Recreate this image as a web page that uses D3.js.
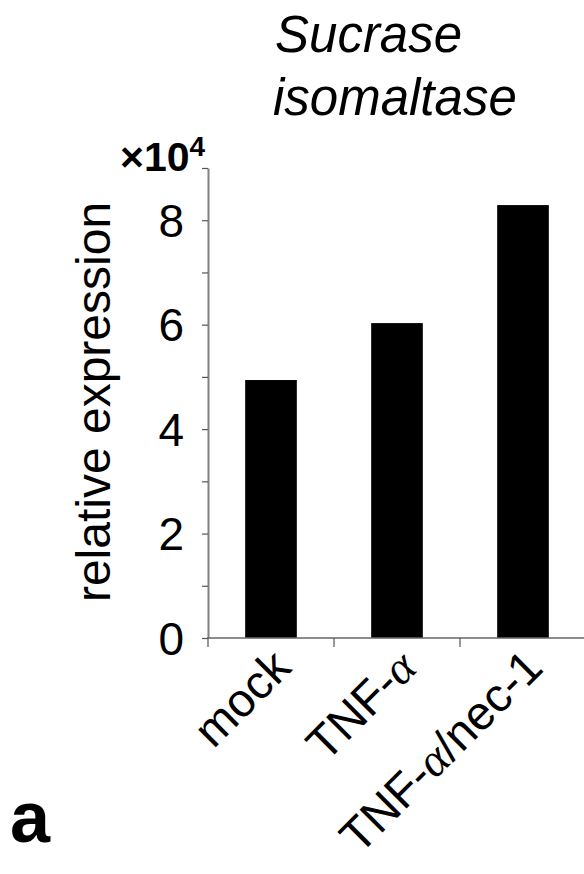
<!DOCTYPE html>
<html>
<head>
<meta charset="utf-8">
<script src="https://cdn.jsdelivr.net/npm/d3@7"></script>
<style>
  body { margin: 0; background: #fff; }
  text { font-family: "Liberation Sans", Arial, sans-serif; }
</style>
</head>
<body>
<svg id="chart" width="584" height="874"></svg>
<script>
// data
var categories = ["mock", "TNF-\u03b1", "TNF-\u03b1/nec-1"];
var values = [4.94, 6.03, 8.29];   // x10^4
var yTicks = [0, 1, 2, 3, 4, 5, 6, 7, 8, 9];
var yLabels = [0, 2, 4, 6, 8];

var svg = d3.select("#chart");

var x = d3.scaleBand()
  .domain(categories)
  .range([208, 586])
  .padding(0);

var y = d3.scaleLinear()
  .domain([0, 9])
  .range([638, 168]);

var barW = x.bandwidth() * 0.41;

// bars
svg.selectAll("rect.bar")
  .data(values)
  .enter().append("rect")
  .attr("class", "bar")
  .attr("x", function (d, i) { return x(categories[i]) + x.bandwidth() / 2 - barW / 2; })
  .attr("width", barW)
  .attr("y", function (d) { return y(d); })
  .attr("height", function (d) { return y(0) - y(d); })
  .attr("fill", "#000");

// y axis
var yAxisG = svg.append("g").attr("transform", "translate(208,0)");
yAxisG.call(d3.axisLeft(y).tickValues(yTicks).tickSize(6).tickSizeOuter(0).tickFormat(""));
yAxisG.select(".domain").attr("stroke", "#808080").attr("stroke-width", 2);
yAxisG.selectAll(".tick line").attr("stroke", "#555").attr("stroke-width", 1.2);

svg.selectAll("text.ylab")
  .data(yLabels)
  .enter().append("text")
  .attr("class", "ylab")
  .attr("x", 184)
  .attr("y", function (d) { return y(d); })
  .attr("dy", "0.36em")
  .attr("text-anchor", "end")
  .style("font-size", "46px")
  .text(function (d) { return d; });

// x axis
var xAxisG = svg.append("g").attr("transform", "translate(0,638)");
xAxisG.append("line")
  .attr("x1", 207).attr("x2", 584)
  .attr("stroke", "#666").attr("stroke-width", 1.5);
xAxisG.selectAll("line.xt")
  .data(categories)
  .enter().append("line")
  .attr("class", "xt")
  .attr("x1", function (d) { return x(d); })
  .attr("x2", function (d) { return x(d); })
  .attr("y1", 0).attr("y2", 9)
  .attr("stroke", "#555").attr("stroke-width", 1.2);

var xl = svg.selectAll("text.xlab")
  .data(categories)
  .enter().append("text")
  .attr("class", "xlab")
  .attr("text-anchor", "end")
  .attr("transform", function (d) {
    return "translate(" + (x(d) + x.bandwidth() / 2 + 22) + "," + 670 + ") rotate(-45)";
  })
  .style("font-size", "47px");

// split labels so the greek alpha gets a symbol-like face
xl.each(function (d) {
  var t = d3.select(this);
  d.split(/(\u03b1)/).forEach(function (part) {
    if (!part) return;
    var s = t.append("tspan").text(part);
    if (part === "\u03b1") {
      s.style("font-family", "'Liberation Serif', serif").style("font-style", "italic");
    }
  });
});

// y label
svg.append("text")
  .attr("transform", "translate(110,402) rotate(-90)")
  .attr("text-anchor", "middle")
  .style("font-size", "48px")
  .text("relative expression");

// exponent
var ex = svg.append("text")
  .attr("x", 120).attr("y", 171)
  .style("font-size", "41px")
  .style("font-weight", "bold");
ex.append("tspan").text("\u00d710");
ex.append("tspan").attr("dy", -15).style("font-size", "28px").text("4");

// title
svg.append("text")
  .attr("x", 275).attr("y", 52)
  .style("font-size", "51px").style("font-style", "italic")
  .text("Sucrase");
svg.append("text")
  .attr("x", 273).attr("y", 115)
  .style("font-size", "51px").style("font-style", "italic")
  .text("isomaltase");

// panel letter
svg.append("text")
  .attr("x", 10).attr("y", 842)
  .style("font-size", "72px").style("font-weight", "bold")
  .text("a");
</script>
</body>
</html>
